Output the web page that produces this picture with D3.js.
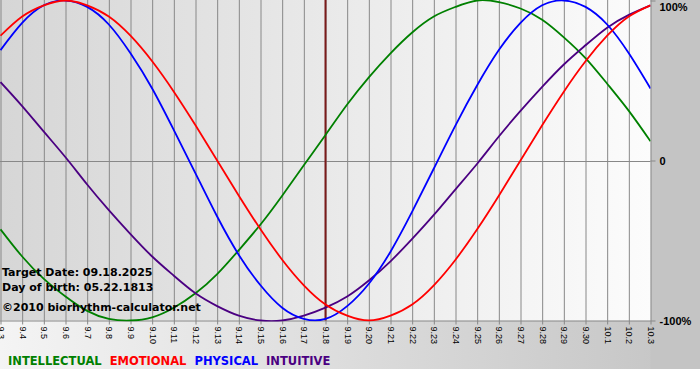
<!DOCTYPE html>
<html>
<head>
<meta charset="utf-8">
<script src="https://cdn.jsdelivr.net/npm/d3@7"></script>
<style>
  body { margin: 0; background: #fff; }
  svg { display: block; font-family: "DejaVu Sans", Verdana, sans-serif; }
</style>
</head>
<body>
<script>
// DATA
const days = ["9.3","9.4","9.5","9.6","9.7","9.8","9.9","9.10","9.11","9.12","9.13","9.14",
  "9.15","9.16","9.17","9.18","9.19","9.20","9.21","9.22","9.23","9.24","9.25","9.26",
  "9.27","9.28","9.29","9.30","10.1","10.2","10.3"];

const physical = [0.69,0.86,0.97,1.00,0.96,0.85,0.67,0.45,0.19,-0.08,-0.35,-0.59,-0.78,-0.92,
  -0.99,-0.99,-0.91,-0.77,-0.57,-0.32,-0.05,0.22,0.47,0.69,0.86,0.97,1.00,0.96,0.85,0.67,0.45];
const emotional = [0.78,0.90,0.97,1.00,0.97,0.90,0.78,0.62,0.43,0.22,0.00,-0.22,-0.43,-0.62,
  -0.78,-0.90,-0.97,-1.00,-0.97,-0.90,-0.78,-0.62,-0.43,-0.22,0.00,0.22,0.43,0.62,0.78,0.90,0.97];
const intellectual = [-0.43,-0.60,-0.74,-0.85,-0.94,-0.99,-1.00,-0.98,-0.92,-0.83,-0.71,-0.56,
  -0.40,-0.22,-0.03,0.16,0.35,0.52,0.67,0.80,0.90,0.96,1.00,0.99,0.95,0.88,0.77,0.64,0.48,0.31,0.12];
const intuitive = [0.49,0.34,0.18,0.02,-0.15,-0.31,-0.46,-0.60,-0.72,-0.83,-0.91,-0.97,-1.00,
  -1.00,-0.97,-0.92,-0.85,-0.75,-0.63,-0.49,-0.34,-0.18,-0.02,0.15,0.31,0.46,0.60,0.72,0.83,0.91,0.97];

const targetDay = "9.18";
const yTicks = [1, 0, -1];
const yTickLabels = ["100%", "0", "-100%"];
const infoLines = ["Target Date: 09.18.2025", "Day of birth: 05.22.1813"];
const credit = "\u00a92010 biorhythm-calculator.net";

const series = [
  {name: "INTELLECTUAL", values: intellectual, color: "#008000"},
  {name: "EMOTIONAL", values: emotional, color: "#ff0000"},
  {name: "PHYSICAL", values: physical, color: "#0000ff"},
  {name: "INTUITIVE", values: intuitive, color: "#4b0082"}
];

// SVG
const W = 700, H = 380;
const svg = d3.select("body").append("svg").attr("width", W).attr("height", H);

const plot = {left: 0, top: 0, right: 650.5, bottom: 320.5};

const defs = svg.append("defs");
const g1 = defs.append("linearGradient").attr("id", "plotBg");
g1.append("stop").attr("offset", "0%").attr("stop-color", "#d6d6d6");
g1.append("stop").attr("offset", "100%").attr("stop-color", "#fcfcfc");
const g2 = defs.append("linearGradient").attr("id", "botBg");
g2.append("stop").attr("offset", "0%").attr("stop-color", "#f4f4f4");
g2.append("stop").attr("offset", "100%").attr("stop-color", "#c4c4c4");
defs.append("clipPath").attr("id", "clip").append("rect")
  .attr("x", 0).attr("y", 0).attr("width", plot.right).attr("height", plot.bottom + 1);

// backgrounds
svg.append("rect").attr("x", 0).attr("y", plot.bottom).attr("width", W).attr("height", 369 - plot.bottom)
  .attr("fill", "url(#botBg)");
svg.append("rect").attr("x", plot.right).attr("y", 0).attr("width", W - plot.right).attr("height", 369)
  .attr("fill", "#c4c4c4");
svg.append("rect").attr("x", 0).attr("y", 0).attr("width", plot.right).attr("height", plot.bottom)
  .attr("fill", "url(#plotBg)");

// scales
const x = d3.scalePoint().domain(days).range([0.5, plot.right]);
const y = d3.scaleLinear().domain([-1, 1]).range([plot.bottom, 0.5]);

// grid + x axis
const xAxis = svg.append("g").attr("transform", `translate(0,${plot.bottom})`)
  .call(d3.axisBottom(x).tickSize(4).tickPadding(0));
xAxis.select(".domain").attr("stroke", "#888").attr("d", `M0,0.5H${plot.right}`);
xAxis.selectAll(".tick line").attr("stroke", "#888").attr("y1", -plot.bottom);
xAxis.selectAll(".tick text")
  .attr("font-size", 9).attr("fill", "#000")
  .attr("text-anchor", "start")
  .attr("transform", "rotate(90)")
  .attr("x", 6).attr("y", 0).attr("dy", "0.33em");

// y axis on the right
const yAxis = svg.append("g").attr("transform", `translate(${plot.right},0)`)
  .call(d3.axisRight(y).tickValues(yTicks).tickSize(5).tickPadding(4)
    .tickFormat((d, i) => yTickLabels[i]));
yAxis.select(".domain").remove();
yAxis.selectAll(".tick line").attr("stroke", "#888");
yAxis.selectAll(".tick text").attr("font-size", 11).attr("font-weight", "bold").attr("fill", "#000");
yAxis.selectAll(".tick").filter(d => d === 1).select("text").attr("dy", "0.9em");

// zero line
svg.append("line").attr("x1", 0).attr("x2", plot.right).attr("y1", Math.round(y(0)) + 0.5).attr("y2", Math.round(y(0)) + 0.5)
  .attr("stroke", "#888");

// target day line
svg.append("line").attr("x1", x(targetDay)).attr("x2", x(targetDay)).attr("y1", 0).attr("y2", plot.bottom)
  .attr("stroke", "#7a1a1a").attr("stroke-width", 2);

// curves
const line = d3.line().x((d, i) => x(days[i])).y(d => y(d)).curve(d3.curveNatural);
svg.append("g").attr("clip-path", "url(#clip)")
  .selectAll("path").data([series[0], series[3], series[2], series[1]]).enter().append("path")
  .attr("d", d => line(d.values))
  .attr("fill", "none").attr("stroke", d => d.color).attr("stroke-width", 1.8);

// info text
svg.selectAll(".info").data(infoLines).enter().append("text").attr("class", "info")
  .attr("x", 2).attr("y", (d, i) => 276 + i * 15)
  .attr("font-size", 11).attr("font-weight", "bold").text(d => d);
svg.append("text").attr("x", 2).attr("y", 311)
  .attr("font-size", 11).attr("font-weight", "bold").text(credit);

// legend
let lx = 8;
series.forEach(s => {
  const t = svg.append("text").attr("x", lx).attr("y", 365)
    .attr("font-size", 11.5).attr("font-weight", "bold").attr("fill", s.color).text(s.name);
  lx += t.node().getComputedTextLength() + 8;
});
</script>
</body>
</html>
